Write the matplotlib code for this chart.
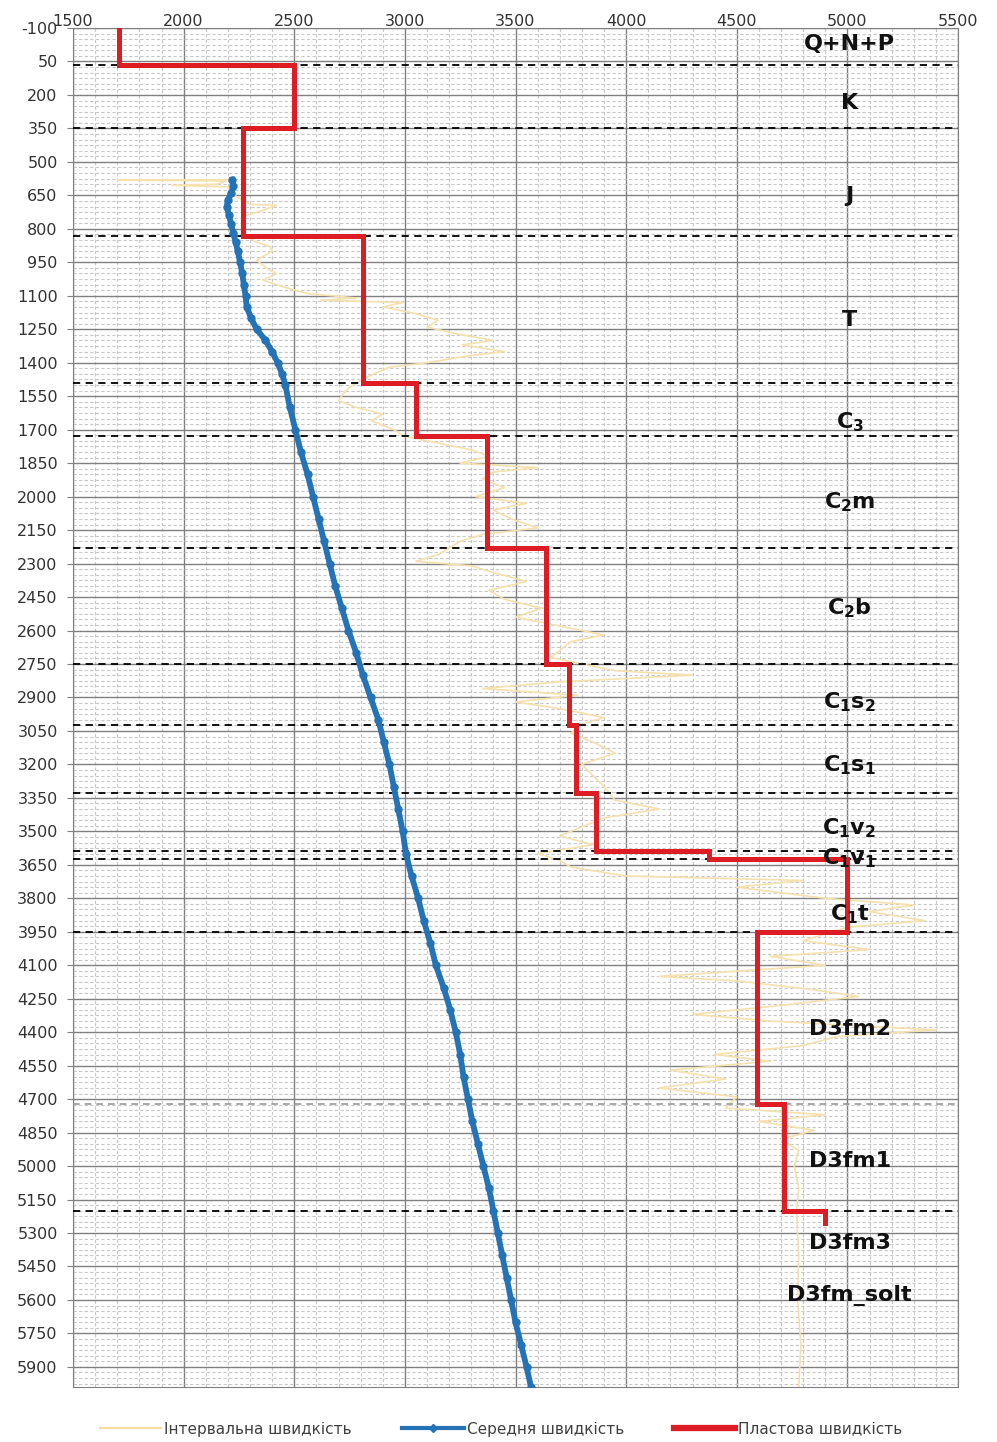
import numpy as np
import matplotlib.pyplot as plt
from matplotlib.lines import Line2D
from matplotlib.ticker import MultipleLocator

# --- data -------------------------------------------------------------
# interval velocity log (depth, m ; velocity, m/s)
interval_depth = [580, 582, 585, 600, 605, 612, 650, 690, 695, 720, 740, 790, 830,
                  860, 880, 900, 940, 980, 1000, 1030, 1060, 1090, 1110, 1120, 1130,
                  1150, 1180, 1210, 1240, 1270, 1300, 1320, 1350, 1370, 1400, 1420,
                  1450, 1480, 1510, 1540, 1570, 1600, 1630, 1660, 1700, 1730,
                  1760, 1790, 1820, 1850, 1870, 1890, 1920, 1960, 2000, 2030, 2060,
                  2100, 2140, 2170, 2200, 2230, 2260, 2290, 2310, 2340, 2380, 2420,
                  2460, 2500, 2540, 2580, 2620, 2650, 2690, 2720, 2750, 2780, 2800,
                  2830, 2860, 2890, 2920, 2950, 2990, 3020, 3060, 3100, 3150, 3200,
                  3250, 3300, 3360, 3400, 3440, 3480, 3520, 3560, 3600, 3630, 3660,
                  3700, 3720, 3750, 3800, 3830, 3860, 3900, 3930, 3990, 4030, 4060,
                  4100, 4150, 4170, 4210, 4240, 4280, 4320, 4350, 4390, 4420, 4460,
                  4500, 4530, 4570, 4610, 4650, 4690, 4740, 4770, 4800, 4840, 4880,
                  4930, 5000, 5100, 5200, 5400, 5600, 5800, 5990]
interval_vel = [2210, 1700, 2190, 2150, 1950, 2200, 2230, 2300, 2420, 2350, 2280, 2260, 2280,
                2330, 2390, 2400, 2330, 2380, 2420, 2360, 2450, 2560, 2780, 2620, 2990,
                2900, 3050, 3150, 3100, 3230, 3400, 3260, 3450, 3280, 3100, 2930,
                2860, 2800, 2750, 2720, 2700, 2780, 2900, 2850, 2950, 3000,
                3150, 3300, 3380, 3250, 3600, 3400, 3350, 3450, 3320, 3550, 3400,
                3480, 3600, 3350, 3250, 3200, 3150, 3050, 3300, 3400, 3550, 3380,
                3450, 3620, 3500, 3700, 3900, 3750, 3700, 3660, 3800, 3950, 4300,
                3700, 3350, 3780, 3500, 3700, 3900, 3800, 3750, 3850, 3950, 3800,
                3850, 3900, 3950, 4150, 3900, 3800, 3700, 3850, 3600, 3700, 3750,
                4000, 4800, 4500, 4900, 5300, 5100, 5350, 5000, 4800, 5100, 4650,
                4900, 4150, 4500, 4850, 5050, 4700, 4300, 4650, 5400, 4950, 4800,
                4400, 4650, 4200, 4450, 4150, 4500, 4450, 4900, 4600, 4850, 4700,
                4780, 4760, 4780, 4770, 4780, 4775, 4790, 4780]

# average velocity
avg_depth = [580, 610, 640, 670, 700, 740, 780, 820, 860, 900, 950, 1000, 1050, 1100,
             1150, 1200, 1250, 1300, 1350, 1400, 1450, 1500, 1600, 1700, 1800, 1900,
             2000, 2100, 2200, 2300, 2400, 2500, 2600, 2700, 2800, 2900, 3000, 3100,
             3200, 3300, 3400, 3500, 3600, 3700, 3800, 3900, 4000, 4100, 4200, 4300,
             4400, 4500, 4600, 4700, 4800, 4900, 5000, 5100, 5200, 5300, 5400, 5500,
             5600, 5700, 5800, 5900, 5990]
avg_vel = [2220, 2225, 2215, 2200, 2195, 2205, 2215, 2225, 2235, 2245, 2255, 2265, 2272, 2280,
           2285, 2305, 2330, 2370, 2400, 2425, 2445, 2460, 2480, 2505, 2530, 2560,
           2585, 2610, 2635, 2660, 2685, 2715, 2745, 2780, 2810, 2845, 2880, 2905,
           2930, 2950, 2970, 2990, 3005, 3030, 3060, 3085, 3115, 3140, 3175, 3205,
           3230, 3250, 3265, 3285, 3305, 3330, 3355, 3380, 3400, 3420, 3440, 3460,
           3480, 3500, 3525, 3550, 3570]

# formation (layer) velocity
layer_top = [-100, 65, 350, 833, 1492, 1730, 2232, 2752, 3025, 3326, 3590, 3626, 3953, 4720, 5200]
layer_bottom = [65, 350, 833, 1492, 1730, 2232, 2752, 3025, 3326, 3590, 3626, 3953, 4720, 5200, 5255]
layer_vel = [1710, 2500, 2270, 2810, 3050, 3370, 3640, 3740, 3775, 3866, 4373, 5000, 4590, 4713, 4898]

# stratigraphic boundaries
boundaries = [65, 350, 833, 1492, 1730, 2232, 2752, 3025, 3326, 3590, 3626, 3953, 5200]
faint_boundaries = [4720]

# formation names and the depth at which they are written
strat_names = ['Q+N+P', 'K', 'J', 'T', r'$\mathbf{C_3}$', r'$\mathbf{C_2m}$', r'$\mathbf{C_2b}$',
               r'$\mathbf{C_1s_2}$', r'$\mathbf{C_1s_1}$', r'$\mathbf{C_1v_2}$', r'$\mathbf{C_1v_1}$',
               r'$\mathbf{C_1t}$', 'D3fm2', 'D3fm1', 'D3fm3', 'D3fm_solt']
strat_depth = [-28, 236, 653, 1209, 1665, 2025, 2500, 2920, 3205, 3485, 3620, 3870,
               4384, 4976, 5344, 5581]

x_ticks = [1500, 2000, 2500, 3000, 3500, 4000, 4500, 5000, 5500]
y_ticks = list(range(-100, 6000, 150))

series_labels = ['Інтервальна швидкість', 'Середня швидкість', 'Пластова швидкість']

# --- figure ------------------------------------------------------------
plt.rcParams['font.family'] = ['DejaVu Sans']
plt.rcParams['axes.unicode_minus'] = False
fig = plt.figure(figsize=(9.97, 14.42), dpi=100)
ax = fig.add_axes([73 / 997, 1 - 1387 / 1442, (958 - 73) / 997, (1387 - 28) / 1442])

ax.set_xlim(1500, 5500)
ax.set_ylim(5990, -100)

# grid
ax.xaxis.set_minor_locator(MultipleLocator(100))
ax.yaxis.set_minor_locator(MultipleLocator(25))
ax.set_xticks(x_ticks)
ax.set_yticks(y_ticks)
ax.grid(which='major', color='#808080', linewidth=1.0, zorder=0)
ax.grid(which='minor', color='#c8c8c8', linewidth=0.8, linestyle=(0, (3, 2)), zorder=0)
ax.set_axisbelow(True)
for s in ax.spines.values():
    s.set_color('#808080')

ax.xaxis.tick_top()
ax.tick_params(axis='x', which='both', length=0, pad=-1, labelsize=11.5, labelcolor='#333333')
ax.tick_params(axis='y', which='major', length=4, color='#808080', pad=7,
               labelsize=11.5, labelcolor='#333333')
ax.tick_params(axis='y', which='minor', length=0)

# series
ax.plot(interval_vel, interval_depth, color='#f4e1ad', linewidth=1.2, zorder=2)

for d in boundaries:
    ax.axhline(d, color='black', linewidth=1.3, linestyle=(0, (4, 3)), zorder=3)
for d in faint_boundaries:
    ax.axhline(d, color='#9a9a9a', linewidth=1.2, linestyle=(0, (4, 3)), zorder=3)

ax.plot(avg_vel, avg_depth, color='#2473b6', linewidth=4.2, marker='o', markersize=5,
        zorder=4)

red_x = np.repeat(layer_vel, 2)
red_y = np.column_stack([layer_top, layer_bottom]).ravel()
ax.plot(red_x, red_y, color='#dd1c24', linewidth=3.6, solid_joinstyle='miter', zorder=5)

for name, d in zip(strat_names, strat_depth):
    ax.text(5010, d, name, ha='center', va='center', fontsize=16, fontweight='bold',
            color='#111111', zorder=6)

handles = [Line2D([], [], color='#f2dc9e', linewidth=1.5),
           Line2D([], [], color='#2473b6', linewidth=3, marker='D', markersize=4),
           Line2D([], [], color='#dd1c24', linewidth=4.5)]
fig.legend(handles, series_labels, loc='center', bbox_to_anchor=(0.503, 13 / 1442),
           ncol=3, frameon=False, handlelength=4, handletextpad=0.2,
           columnspacing=3.3, fontsize=11, labelcolor='#404040')

fig.savefig('out.png', dpi=100)
